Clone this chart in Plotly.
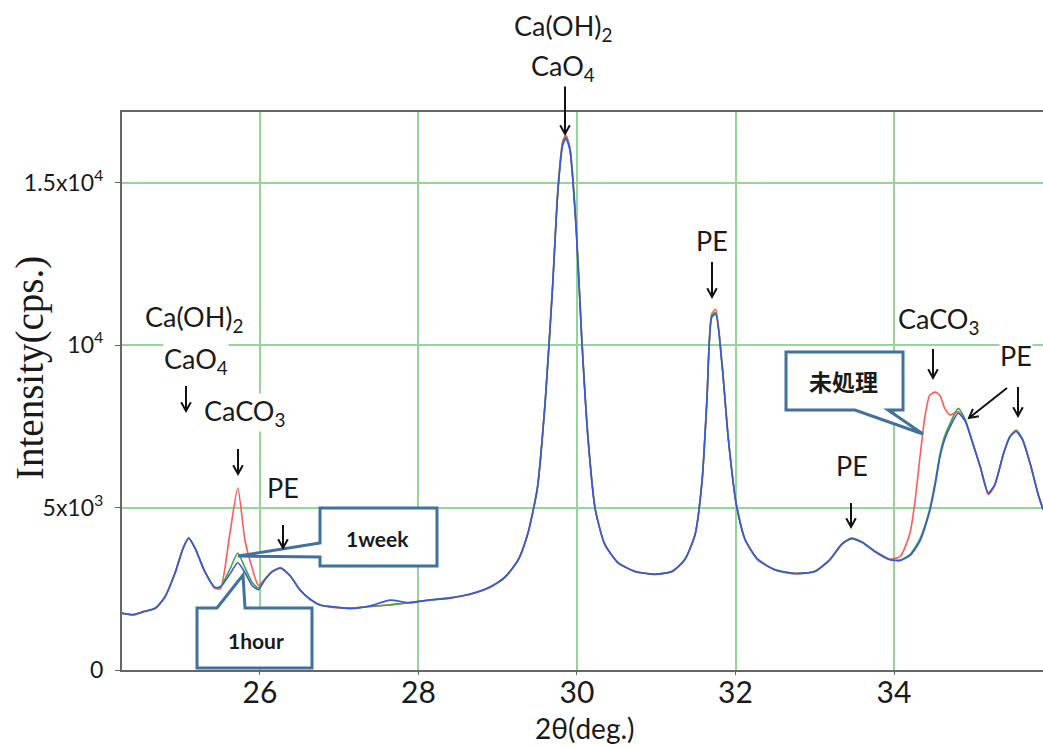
import math
import plotly.graph_objects as go

# ---------------- data ----------------
two_theta = [24.26, 24.40, 24.52, 24.68, 24.80, 24.93, 25.03, 25.10, 25.18, 25.30,
             25.43, 25.50, 25.62, 25.72, 25.81, 25.90, 25.98, 26.06, 26.15, 26.26,
             26.38, 26.50, 26.63, 26.76, 26.95, 27.14, 27.39, 27.64, 27.89, 28.15,
             28.40, 28.65, 28.90, 29.09, 29.26, 29.38, 29.50, 29.60, 29.69, 29.76,
             29.82, 29.86, 29.91, 29.99, 30.06, 30.14, 30.23, 30.35, 30.52, 30.73,
             30.98, 31.20, 31.36, 31.49, 31.58, 31.64, 31.70, 31.75, 31.83, 31.91,
             32.01, 32.12, 32.28, 32.50, 32.75, 33.00, 33.19, 33.34, 33.46, 33.60,
             33.76, 33.95, 34.08, 34.20, 34.26, 34.33, 34.39, 34.45, 34.52, 34.58,
             34.64, 34.71, 34.81, 34.90, 34.98, 35.09, 35.19, 35.27, 35.38, 35.46,
             35.54, 35.62, 35.72, 35.82, 35.88]

untreated = [1760, 1690, 1800, 1890, 2260, 3010, 3760, 4070, 3740, 3060,
             2520, 2500, 4200, 5600, 4000, 3150, 2600, 2790, 3010, 3150,
             2890, 2490, 2170, 2010, 1920, 1910, 1950, 2010, 2070, 2160,
             2230, 2320, 2560, 2840, 3410, 4190, 5620, 8320, 11750, 14850,
             16280, 16450, 16100, 13650, 10250, 7150, 4960, 3860, 3310, 3020,
             2960, 3020, 3410, 4180, 5900, 8400, 10950, 11100, 9450, 7120,
             5120, 4030, 3390, 3080, 2980, 3020, 3390, 3880, 4060, 3940,
             3660, 3410, 3500, 4200, 5100, 6600, 7800, 8450, 8550, 8450,
             8050, 7850, 7950, 7650, 7080, 6230, 5400, 5680, 6640, 7180,
             7380, 7120, 6330, 5390, 4940]

one_week = [1750, 1700, 1790, 1900, 2250, 3000, 3750, 4060, 3750, 3050,
            2550, 2560, 3100, 3600, 3150, 2700, 2520, 2780, 3020, 3140,
            2900, 2480, 2180, 2000, 1930, 1900, 1960, 2000, 2080, 2150,
            2220, 2330, 2550, 2850, 3400, 4200, 5600, 8300, 11700, 14800,
            16200, 16400, 16050, 13600, 10200, 7100, 4950, 3870, 3300, 3030,
            2950, 3030, 3400, 4170, 5870, 8350, 10900, 11000, 9400, 7100,
            5100, 4020, 3400, 3090, 2970, 3030, 3400, 3870, 4050, 3930,
            3650, 3400, 3380, 3550, 3750, 4050, 4450, 4950, 5800, 6650,
            7200, 7600, 8050, 7700, 7100, 6250, 5450, 5700, 6650, 7170,
            7360, 7100, 6340, 5400, 4950]

one_hour = [1740, 1710, 1780, 1910, 2240, 2990, 3740, 4050, 3760, 3040,
            2540, 2550, 2950, 3300, 3000, 2600, 2470, 2770, 3030, 3130,
            2910, 2470, 2190, 1990, 1940, 1890, 1970, 2150, 2070, 2160,
            2210, 2340, 2540, 2860, 3390, 4210, 5580, 8280, 11680, 14750,
            16150, 16350, 16000, 13550, 10150, 7080, 4940, 3880, 3290, 3040,
            2940, 3040, 3390, 4160, 5850, 8300, 10850, 10950, 9380, 7090,
            5090, 4010, 3410, 3080, 2960, 3040, 3390, 3860, 4040, 3920,
            3640, 3390, 3370, 3520, 3700, 3980, 4380, 4880, 5700, 6550,
            7100, 7500, 7900, 7650, 7080, 6240, 5440, 5690, 6640, 7160,
            7340, 7090, 6330, 5390, 4940]

x_ticks = [26, 28, 30, 32, 34]
y_ticks = [0, 5000, 10000, 15000]
y_tick_text = ["0", "5x10<sup>3</sup>", "10<sup>4</sup>", "1.5x10<sup>4</sup>"]

# ---------------- layout geometry (page pixels) ----------------
W, H = 1043, 747
PL, PR, PT, PB = 122, 1043, 112, 670          # plot area edges on the page
ML, MT, MR, MB = PL, PT, W - PR, H - PB


def px(x):
    return (x - PL) / (PR - PL)


def py(y):
    return (PB - y) / (PB - PT)


SANS = "Lato, Open Sans, sans-serif"
SERIF = "Liberation Serif, Times New Roman, serif"
CJK = "Noto Sans CJK JP, sans-serif"
GRID = "#97d497"
BOXC = "#41719c"
INK = "#1a1a1a"

fig = go.Figure()
for name, ys, col in [("未処理", untreated, "#ff5a5a"),
                      ("1week", one_week, "#3aa83a"),
                      ("1hour", one_hour, "#3a55e0")]:
    fig.add_trace(go.Scatter(x=two_theta, y=ys, mode="lines", name=name,
                             line=dict(color=col, width=1.6, shape="spline", smoothing=0.6)))

shapes = []
# white backgrounds of the label text boxes (hide gridlines, drawn under traces)
for (x0, y0, x1, y1) in [(130, 296, 262, 445), (262, 462, 320, 530),
                         (680, 202, 745, 265), (872, 290, 1043, 348)]:
    shapes.append(dict(type="rect", xref="paper", yref="paper", layer="between",
                       x0=px(x0), x1=px(x1), y0=py(y1), y1=py(y0),
                       fillcolor="white", line=dict(width=0)))


def callout(points):
    d = "M " + " L ".join(f"{px(a):.5f},{py(b):.5f}" for a, b in points) + " Z"
    return dict(type="path", xref="paper", yref="paper", path=d, layer="above",
                fillcolor="white", line=dict(color=BOXC, width=3))


shapes.append(callout([(320, 508), (437, 508), (437, 566), (320, 566),
                       (320, 557), (238, 556), (320, 543)]))
shapes.append(callout([(197, 608), (217, 608), (243, 575), (245, 608),
                       (312, 608), (312, 668), (197, 668)]))
shapes.append(callout([(786, 352), (903, 352), (903, 410), (888, 410),
                       (923, 434), (855, 410), (786, 410)]))


def arrow(tx, ty, fx, fy, head=10):
    """arrow from (fx, fy) to tip (tx, ty), page pixels"""
    ang = math.atan2(fy - ty, fx - tx)
    pts = [(tx + head * math.cos(ang + s), ty + head * math.sin(ang + s)) for s in (-0.5, 0.5)]
    shapes.append(dict(type="line", xref="paper", yref="paper", layer="above",
                       x0=px(fx), y0=py(fy), x1=px(tx), y1=py(ty),
                       line=dict(color="#111111", width=2)))
    d = (f"M {px(pts[0][0]):.5f},{py(pts[0][1]):.5f} L {px(tx):.5f},{py(ty):.5f} "
         f"L {px(pts[1][0]):.5f},{py(pts[1][1]):.5f}")
    shapes.append(dict(type="path", xref="paper", yref="paper", layer="above", path=d,
                       line=dict(color="#111111", width=2)))


arrow(186, 411, 186, 386)
arrow(238, 474, 238, 449)
arrow(283, 548, 283, 525)
arrow(565, 134, 565, 84)
arrow(712, 297, 712, 262)
arrow(851, 527, 851, 503)
arrow(933, 378, 933, 349)
arrow(1018, 416, 1018, 387)
arrow(969, 418, 1007, 388)

ann = []


def label(text, x, y, size=27, font=SANS, bold=False, bg=True):
    ann.append(dict(text=f"<b>{text}</b>" if bold else text, xref="paper", yref="paper",
                    x=px(x), y=py(y), xanchor="center", yanchor="middle", showarrow=False,
                    font=dict(family=font, size=size, color=INK),
                    bgcolor="white" if bg else "rgba(255,255,255,0)", borderpad=0))


label("Ca(OH)<sub>2</sub>", 194, 318)
label("CaO<sub>4</sub>", 196, 360)
label("CaCO<sub>3</sub>", 244, 412)
label("PE", 283, 488)
label("Ca(OH)<sub>2</sub>", 563, 28)
label("CaO<sub>4</sub>", 563, 68)
label("PE", 712, 240)
label("PE", 852, 465)
label("CaCO<sub>3</sub>", 938, 320)
label("PE", 1016, 355)
label("1week", 377, 538, 21, bold=True, bg=False)
label("1hour", 256, 640, 21, bold=True, bg=False)
label("未処理", 843, 381, 23, font=CJK, bold=True, bg=False)

# axis titles
ann.append(dict(text="Intensity(cps.)", xref="paper", yref="paper", x=px(30), y=py(368),
                textangle=-90, showarrow=False, xanchor="center", yanchor="middle",
                font=dict(family=SERIF, size=39, color=INK)))
ann.append(dict(text="2θ(deg.)", xref="paper", yref="paper", x=px(585), y=py(728),
                showarrow=False, xanchor="center", yanchor="middle",
                font=dict(family=SANS, size=28, color=INK)))

fig.update_layout(
    width=W, height=H, margin=dict(l=ML, r=MR, t=MT, b=MB, pad=0),
    paper_bgcolor="white", plot_bgcolor="white", showlegend=False,
    shapes=shapes, annotations=ann,
    xaxis=dict(range=[24.259, 35.88], tickvals=x_ticks, showgrid=True,
               gridcolor=GRID, gridwidth=1.5, zeroline=False,
               showline=True, linecolor="#666666", linewidth=2, mirror=True,
               ticks="outside", ticklen=3, tickcolor="#666666", ticklabelstandoff=-8,
               tickfont=dict(family=SANS, size=30, color=INK)),
    yaxis=dict(range=[0, 17170], tickvals=y_ticks, ticktext=y_tick_text, showgrid=True,
               gridcolor=GRID, gridwidth=1.5, zeroline=False,
               showline=True, linecolor="#666666", linewidth=2,
               ticks="outside", ticklen=5, tickcolor="#666666", ticklabelstandoff=7,
               tickfont=dict(family=SANS, size=23, color=INK)),
)

fig.write_html("out.html", config={"displayModeBar": False},
               post_script="document.body.style.margin='0';document.body.style.overflow='hidden';")
